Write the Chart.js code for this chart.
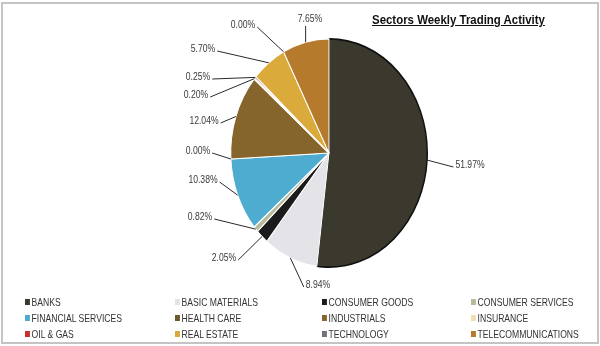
<!DOCTYPE html>
<html>
<head>
<meta charset="utf-8">
<script src="https://cdn.jsdelivr.net/npm/chart.js@4.4.1/dist/chart.umd.min.js"></script>
<style>
  html, body { margin: 0; padding: 0; background: #fff; }
  #wrap { position: relative; width: 600px; height: 346px; overflow: hidden; }
  #frame { position: absolute; left: 1px; top: 2px; width: 594px; height: 338px; border: 2px solid #c4c4c4; }
  #title { position: absolute; left: 372px; top: 13px; font: bold 12.5px "Liberation Sans", sans-serif;
    color: #111; text-decoration: underline; white-space: nowrap; transform: scaleX(0.915); transform-origin: 0 0; }
  #legend { position: absolute; left: 0; top: 0; width: 600px; height: 346px; pointer-events: none; }
  .item { position: absolute; font: 10.5px "Liberation Sans", sans-serif; color: #333; white-space: nowrap; line-height: 12px;
    transform: scaleX(0.82); transform-origin: 0 0; }
  .item i { display: inline-block; width: 6px; height: 6px; margin-right: 2px; vertical-align: 1px; }
  canvas { position: absolute; left: 0; top: 0; }
</style>
</head>
<body>
<div id="wrap">
  <div id="frame"></div>
  <canvas id="pie" width="600" height="346"></canvas>
  <div id="title">Sectors Weekly Trading Activity</div>
  <div id="legend"></div>
</div>
<script>
var sectors = ['BANKS', 'BASIC MATERIALS', 'CONSUMER GOODS', 'CONSUMER SERVICES',
  'FINANCIAL SERVICES', 'HEALTH CARE', 'INDUSTRIALS', 'INSURANCE',
  'OIL & GAS', 'REAL ESTATE', 'TECHNOLOGY', 'TELECOMMUNICATIONS'];

var shares = [51.97, 8.94, 2.05, 0.82, 10.38, 0.00, 12.04, 0.20, 0.25, 5.70, 0.00, 7.65];

var colors = ['#3b392d', '#e3e3e8', '#1b1b1b', '#b6bb9c', '#4eacd0', '#6e5a2c',
  '#85652b', '#f1ddb6', '#c62f2b', '#daaa3b', '#70747a', '#b57a2b'];

// where each percentage text sits (centre of text)
var labelPos = [[470, 165], [318, 285], [224, 258], [200, 217], [203, 180], [198, 151],
  [204, 121], [196, 95], [198, 77], [203, 49], [243, 25], [310, 19]];

var squash = 115 / 99;
var narrow = 0.82;

// legend, 4 columns x 3 rows
var legendCols = [25, 175, 322, 471];
var legendRows = [296, 312, 328];
var legend = document.getElementById('legend');
sectors.forEach(function (name, i) {
  var d = document.createElement('div');
  d.className = 'item';
  d.style.left = legendCols[i % 4] + 'px';
  d.style.top = legendRows[Math.floor(i / 4)] + 'px';
  var sw = document.createElement('i');
  sw.style.background = colors[i];
  d.appendChild(sw);
  d.appendChild(document.createTextNode(name));
  legend.appendChild(d);
});

var ellipse = {
  id: 'ellipse',
  beforeDatasetsDraw: function (chart) {
    var arc = chart.getDatasetMeta(0).data[0];
    var ctx = chart.ctx;
    ctx.save();
    ctx.translate(arc.x, arc.y);
    ctx.scale(1, squash);
    ctx.translate(-arc.x, -arc.y);
  },
  afterDatasetsDraw: function (chart) {
    chart.ctx.restore();
  }
};

var pctLabels = {
  id: 'pctLabels',
  afterDraw: function (chart) {
    var ctx = chart.ctx;
    var arcs = chart.getDatasetMeta(0).data;
    ctx.save();
    ctx.font = '10.5px "Liberation Sans", sans-serif';
    ctx.textBaseline = 'middle';
    arcs.forEach(function (a, i) {
      var mid = (a.startAngle + a.endAngle) / 2;
      var ex = a.x + a.outerRadius * Math.cos(mid);
      var ey = a.y + a.outerRadius * squash * Math.sin(mid);
      var txt = shares[i].toFixed(2) + '%';
      var w = ctx.measureText(txt).width * narrow;
      var lx = labelPos[i][0], ly = labelPos[i][1];
      var sx, sy;
      if (ex > lx + w / 2) { sx = lx + w / 2 + 2; sy = ly + 2; }
      else if (ex < lx - w / 2) { sx = lx - w / 2 - 2; sy = ly + 2; }
      else { sx = ex; sy = ly + 7; }
      ctx.strokeStyle = '#2a2a2a';
      ctx.lineWidth = 1;
      ctx.beginPath();
      ctx.moveTo(sx, sy);
      ctx.lineTo(ex, ey);
      ctx.stroke();
      ctx.save();
      ctx.translate(lx, ly);
      ctx.scale(narrow, 1);
      ctx.fillStyle = '#3a3a3a';
      ctx.textAlign = 'center';
      ctx.fillText(txt, 0, 0);
      ctx.restore();
    });
    ctx.restore();
  }
};

new Chart(document.getElementById('pie'), {
  type: 'pie',
  plugins: [ellipse, pctLabels],
  data: {
    labels: sectors,
    datasets: [{
      data: shares,
      backgroundColor: colors,
      borderColor: ['#111', '#fff', '#fff', '#fff', '#fff', '#fff', '#fff', '#fff', '#fff', '#fff', '#fff', '#fff'],
      borderWidth: [1.5, 1, 1, 1, 1, 1, 1, 1, 1, 1, 1, 1]
    }]
  },
  options: {
    responsive: false,
    animation: false,
    layout: {
      padding: { left: 230, right: 172, top: 54, bottom: 94 }
    },
    plugins: {
      legend: { display: false },
      tooltip: { enabled: false }
    }
  }
});
</script>
</body>
</html>
